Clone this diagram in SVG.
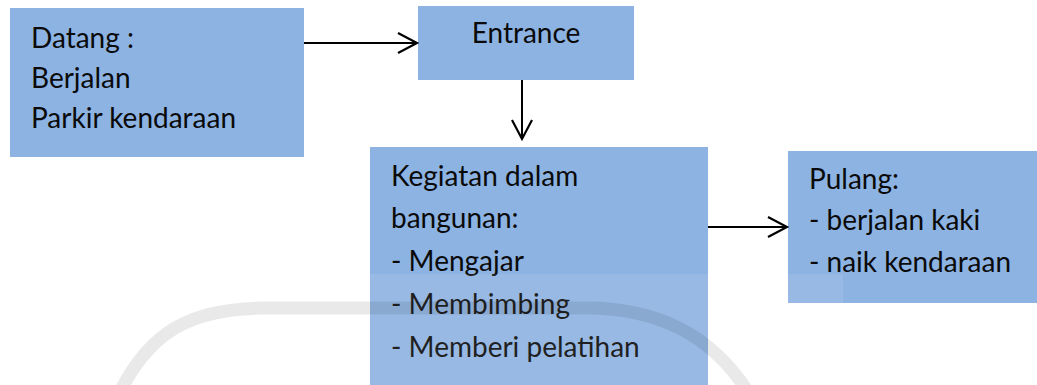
<svg xmlns="http://www.w3.org/2000/svg" width="1037" height="385" viewBox="0 0 1037 385">
  <style>
    .box { fill: #8DB3E2; }
    .lbl { font-family: Lato, "Open Sans", "Liberation Sans", sans-serif; font-size: 28px; fill: #0a0a0a; }
    .conn { stroke: #000; stroke-width: 2; fill: none; marker-end: url(#chev); }
    .wmline { stroke: #000; stroke-opacity: 0.085; stroke-width: 13; fill: none; }
  </style>
  <defs>
    <marker id="chev" markerUnits="userSpaceOnUse" markerWidth="24" markerHeight="24" refX="20" refY="11" orient="auto" viewBox="0 0 24 24">
      <path d="M1 1 L20 11 L1 21" fill="none" stroke="#000" stroke-width="2.2"/>
    </marker>
  </defs>
  <rect width="1037" height="385" fill="#ffffff"/>

  <g id="node-datang">
    <rect class="box" x="10" y="8" width="294" height="149"/>
    <text class="lbl" x="31" y="48">Datang :</text>
    <text class="lbl" x="31" y="88">Berjalan</text>
    <text class="lbl" x="31" y="128">Parkir kendaraan</text>
  </g>

  <g id="node-entrance">
    <rect class="box" x="418" y="6" width="216" height="74"/>
    <text class="lbl" x="526" y="43" text-anchor="middle">Entrance</text>
  </g>

  <g id="node-kegiatan">
    <rect class="box" x="370" y="147" width="338" height="243"/>
    <text class="lbl" x="391" y="186">Kegiatan dalam</text>
    <text class="lbl" x="391" y="228">bangunan:</text>
    <text class="lbl" x="391" y="271">- Mengajar</text>
    <text class="lbl" x="391" y="314">- Membimbing</text>
    <text class="lbl" x="391" y="357">- Memberi pelatihan</text>
  </g>

  <g id="node-pulang">
    <rect class="box" x="788" y="151" width="249" height="152"/>
    <text class="lbl" x="809" y="189">Pulang:</text>
    <text class="lbl" x="809" y="230">- berjalan kaki</text>
    <text class="lbl" x="809" y="272">- naik kendaraan</text>
  </g>

  <g id="connectors">
    <line class="conn" x1="304" y1="43" x2="417" y2="43"/>
    <line class="conn" x1="522" y1="80" x2="522" y2="139"/>
    <line class="conn" x1="708" y1="227" x2="787" y2="227"/>
  </g>

  <g id="watermark">
    <rect x="0" y="274" width="843" height="111" fill="#ffffff" opacity="0.09"/>
    <path class="wmline" d="M120 392 C150 332, 190 309, 262 308 L590 308 C660 309, 712 336, 748 392"/>
  </g>
</svg>
